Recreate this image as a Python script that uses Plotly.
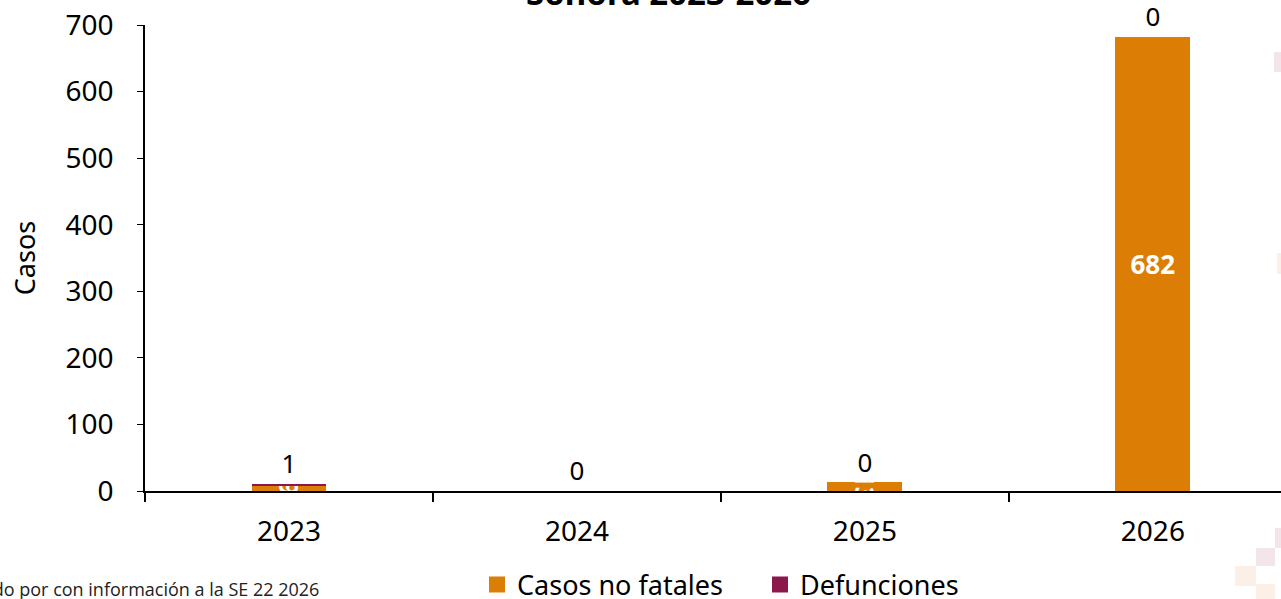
import plotly.graph_objects as go

years = ["2023", "2024", "2025", "2026"]
casos_no_fatales = [9, 0, 13, 682]
defunciones = [1, 0, 0, 0]
y_ticks = [0, 100, 200, 300, 400, 500, 600, 700]

ORANGE = "#DC7D06"
MAROON = "#8C174B"
FONT = "Noto Sans"

L, R_EDGE, T, B = 145, 1281, 25, 491
W, H = R_EDGE - L, B - T


def px(x):
    return (x - L) / W


def py(y):
    return (B - y) / H


fig = go.Figure()
fig.add_trace(go.Bar(
    x=years, y=casos_no_fatales, name="Casos no fatales",
    marker=dict(color=ORANGE, line=dict(width=0)),
    text=casos_no_fatales, texttemplate="<b>%{text}</b>",
    textposition="inside", insidetextanchor="middle",
    textfont=dict(color="white", size=26, family=FONT),
    width=0.26, showlegend=False,
))
fig.add_trace(go.Bar(
    x=years, y=defunciones, name="Defunciones",
    marker=dict(color=MAROON, line=dict(width=0)),
    text=defunciones, textposition="outside",
    textfont=dict(color="black", size=27, family=FONT),
    width=0.26, cliponaxis=False, showlegend=False,
))
# legend entries with larger square swatches
for nm, col in [("Casos no fatales", ORANGE), ("Defunciones", MAROON)]:
    fig.add_trace(go.Scatter(
        x=[None], y=[None], mode="markers", name=nm,
        marker=dict(symbol="square", size=19, color=col),
    ))

shapes = []
deco = [
    (1274, 52, 1281, 72, "#F3E6EB"),
    (1277, 253, 1281, 274, "#FBEFE6"),
    (1275, 528, 1281, 548, "#F3E6EB"),
    (1256, 548, 1275, 566, "#F3E6EB"),
    (1235, 566, 1256, 586, "#FBEFE6"),
    (1256, 584, 1275, 599, "#FBEFE6"),
]
for x0, y0, x1, y1, c in deco:
    shapes.append(dict(type="rect", xref="paper", yref="paper",
                       x0=px(x0), x1=px(x1), y0=py(y1), y1=py(y0),
                       fillcolor=c, line=dict(width=0), layer="above"))

fig.update_layout(
    width=1281, height=599,
    margin=dict(l=L, r=0, t=T, b=599 - B, autoexpand=False),
    paper_bgcolor="white", plot_bgcolor="white",
    barmode="stack",
    font=dict(family=FONT, size=27, color="black"),
    showlegend=True,
    legend=dict(orientation="h", x=px(477), y=py(585), xanchor="left", yanchor="middle",
                font=dict(size=27, family=FONT), itemwidth=30, traceorder="normal",
                entrywidth=238, entrywidthmode="pixels",
                bgcolor="rgba(0,0,0,0)"),
    uniformtext=dict(minsize=26, mode="show"),
    shapes=shapes,
    annotations=[
        dict(text="<b>Sonora 2023-2026</b>", xref="paper", yref="paper",
             x=px(668), y=py(-7), xanchor="center", yanchor="middle",
             showarrow=False, font=dict(size=33, family=FONT, color="black")),
        dict(text="Elaborado por con información a la SE 22 2026", xref="paper", yref="paper",
             x=px(321), y=py(589), xanchor="right", yanchor="middle",
             showarrow=False, font=dict(size=18, family="Open Sans", color="#222222")),
    ],
)
fig.update_xaxes(
    type="category", range=[-0.5, 3.445], automargin=False,
    showline=True, linecolor="black", linewidth=2,
    ticks="outside", tickson="boundaries", ticklen=9, tickcolor="black", tickwidth=1.5,
    tickfont=dict(size=28, family=FONT), showgrid=False, zeroline=False,
    ticklabelstandoff=14,
)
fig.update_yaxes(
    range=[0, 700], tickvals=y_ticks, automargin=False,
    showline=True, linecolor="black", linewidth=1.5,
    ticks="outside", ticklen=6, tickcolor="black",
    tickfont=dict(size=28, family=FONT), showgrid=False, zeroline=False,
    ticklabelstandoff=18,
    title=dict(text="Casos", font=dict(size=27, family=FONT), standoff=22),
)

fig.write_html(
    "out.html",
    config={"displayModeBar": False},
    post_script="document.body.style.margin='0';document.body.style.overflow='hidden';",
)
